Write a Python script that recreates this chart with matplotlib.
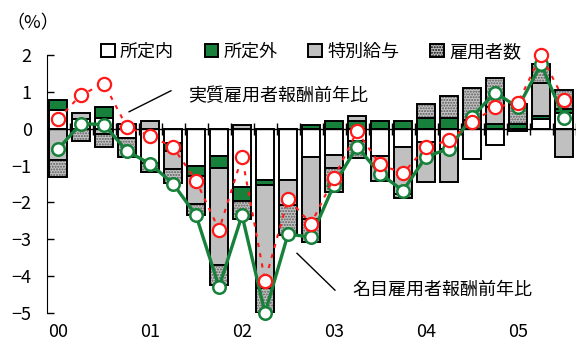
import numpy as np
import matplotlib
matplotlib.use("Agg")
import matplotlib.pyplot as plt
import matplotlib.patches as mpatches

plt.rcParams['font.family'] = ['Noto Sans CJK JP', 'DejaVu Sans']

# 2000Q1 - 2005Q3, 前年比寄与度 (%)
year_labels = ['00', '01', '02', '03', '04', '05']
shoteinai = [0.50, 0.27, 0.28, -0.25, -0.93, -0.38, -1.02, -0.73, -1.57, -1.40, -1.39, -0.77,
             -0.70, -0.32, -0.73, -0.49, -0.35, -0.55, -0.82, -0.43, -0.07, 0.27, 0.43]
shoteigai = [0.27, 0.00, 0.32, 0.00, 0.00, -0.22, -0.25, -0.33, -0.39, -0.14, 0.00, 0.11,
             0.22, 0.20, 0.20, 0.20, 0.30, 0.30, 0.25, 0.12, 0.12, 0.08, 0.10]
tokubetsu = [-0.84, 0.16, -0.14, 0.13, 0.21, -0.50, -0.76, -2.64, 0.10, -2.79, -0.69, -1.67,
             -0.37, 0.15, -0.68, -1.28, -1.10, -0.90, 0.00, 0.46, 0.00, 0.88, -0.78]
koyousha = [-0.46, -0.32, -0.36, -0.53, -0.25, -0.36, -0.32, -0.54, -0.48, -0.67, -0.81, -0.63,
            -0.65, -0.47, 0.00, -0.10, 0.38, 0.59, 0.85, 0.80, 0.55, 0.53, 0.52]
nominal = [-0.55, 0.14, 0.11, -0.61, -0.95, -1.49, -2.35, -4.29, -2.35, -5.00, -2.86, -2.94,
           -1.52, -0.49, -1.22, -1.68, -0.76, -0.54, 0.32, 0.98, 0.58, 1.75, 0.30]
real = [0.26, 0.92, 1.22, 0.04, -0.19, -0.50, -1.41, -2.74, -0.77, -4.13, -1.90, -2.58,
        -1.33, -0.07, -0.97, -1.21, -0.50, -0.31, 0.17, 0.58, 0.71, 2.00, 0.78]

GREEN = '#17813b'
HATCH_FACE = '#c4c4c4'
x = np.arange(len(nominal))

fig = plt.figure(figsize=(5.76, 3.5), dpi=100)
ax = fig.add_axes([47 / 576, 1 - 313 / 350, 529 / 576, 258 / 350])

# 積み上げ棒 (正は上へ、負は下へ)
series = [
    (shoteinai, dict(color='white'), '所定内'),
    (shoteigai, dict(color=GREEN), '所定外'),
    (tokubetsu, dict(color='#c0c0c0'), '特別給与'),
    (koyousha, dict(color=HATCH_FACE, hatch='......'), '雇用者数'),
]
pos = np.zeros(len(x))
neg = np.zeros(len(x))
handles = []
for vals, st, name in series:
    v = np.array(vals)
    bottom = np.where(v >= 0, pos, neg)
    if 'hatch' in st:
        ax.bar(x, v, 0.8, bottom=bottom, color=st['color'], hatch=st['hatch'],
               edgecolor='#5a5a5a', linewidth=0, zorder=2)
        ax.bar(x, v, 0.8, bottom=bottom, fill=False, edgecolor='black', linewidth=1.4, zorder=2)
        h = mpatches.Patch(facecolor=st['color'], hatch=st['hatch'], edgecolor='black', linewidth=1.4)
    else:
        ax.bar(x, v, 0.8, bottom=bottom, color=st['color'], edgecolor='black',
               linewidth=1.4, zorder=2)
        h = mpatches.Patch(facecolor=st['color'], edgecolor='black', linewidth=1.4)
    handles.append((h, name))
    pos = np.where(v >= 0, pos + v, pos)
    neg = np.where(v < 0, neg + v, neg)

ax.axhline(0, color='black', linewidth=1, zorder=2.5)

# 名目・実質
ax.plot(x, nominal, color=GREEN, linewidth=2.4, marker='o', markersize=9,
        markerfacecolor='white', markeredgecolor=GREEN, markeredgewidth=1.8, zorder=3,
        clip_on=False)
ax.plot(x, real, color='#ff1a1a', linewidth=1.5, linestyle=(0, (2, 3)), marker='o',
        markersize=9.5, markerfacecolor='white', markeredgecolor='#ff1a1a',
        markeredgewidth=1.6, zorder=4, clip_on=False)

ax.set_xlim(-0.48, 22.52)
ax.set_ylim(-5, 2)
ax.set_yticks(range(-5, 3))
ax.tick_params(axis='y', direction='in', length=5, width=1, pad=11, labelsize=13)

ax.spines['top'].set_visible(False)
ax.spines['right'].set_visible(False)
ax.spines['bottom'].set_position(('data', 0))
ax.spines['bottom'].set_visible(False)
ax.set_xticks(np.arange(0.5, len(x), 1))
ax.set_xticklabels([])
ax.tick_params(axis='x', direction='inout', length=8, width=1)

sec = ax.secondary_xaxis(0.0)
sec.set_xticks(np.arange(0, len(x), 4), year_labels)
sec.tick_params(length=0, pad=7, labelsize=13)
sec.spines['bottom'].set_visible(False)

# 注記
ax.plot([3.09, 4.91], [0.46, 1.03], color='black', linewidth=1, zorder=5)
ax.text(5.65, 0.89, '実質雇用者報酬前年比', fontsize=13, va='center', ha='left')
ax.plot([10.39, 12.04], [-3.38, -4.38], color='black', linewidth=1, zorder=5)
ax.text(12.78, -4.38, '名目雇用者報酬前年比', fontsize=13, va='center', ha='left')

fig.text(0.057, 0.934, '（%）', fontsize=13, ha='center', va='center')
fig.legend([h for h, _ in handles], [n for _, n in handles], loc='center',
           bbox_to_anchor=(0.54, 0.851), ncol=4, frameon=False, fontsize=13,
           handlelength=0.75, handleheight=0.75, handletextpad=0.3, columnspacing=1.7,
           borderpad=0)

fig.savefig('out.png', dpi=100)
